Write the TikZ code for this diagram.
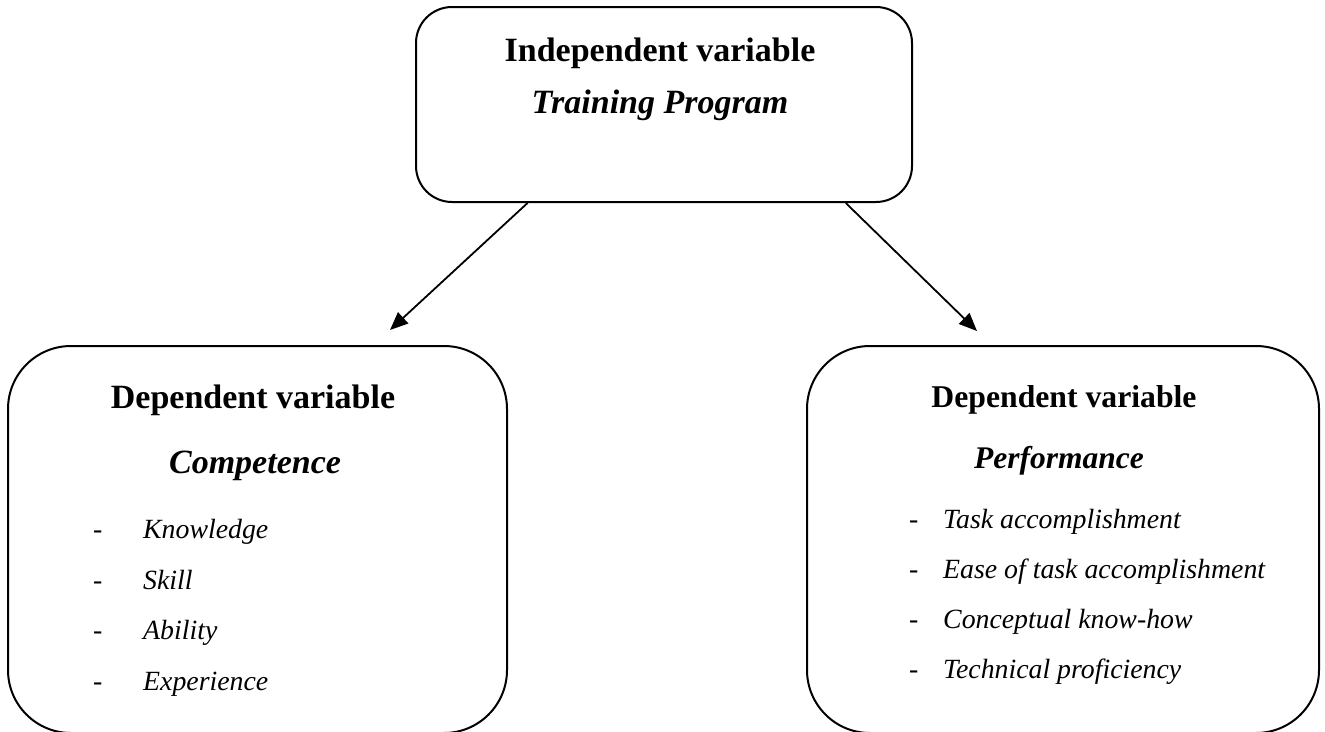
\documentclass[tikz,border=0pt]{standalone}
\usepackage{fontspec}
\setmainfont{Liberation Serif}
\usetikzlibrary{arrows.meta,calc}
\begin{document}
\begin{tikzpicture}[x=1pt,y=-1pt,
  boxstyle/.style={draw=black,line width=2pt,inner sep=0pt,fill=none},
  headbig/.style={anchor=base,inner sep=0pt,font=\fontsize{34}{40}\selectfont\bfseries},
  headsub/.style={anchor=base,inner sep=0pt,font=\fontsize{34}{40}\selectfont\bfseries\itshape},
  headsmall/.style={anchor=base,inner sep=0pt,font=\fontsize{31.7}{38}\selectfont\bfseries},
  headsmallsub/.style={anchor=base,inner sep=0pt,font=\fontsize{31.5}{38}\selectfont\bfseries\itshape},
  itemtxt/.style={anchor=base west,inner sep=0pt,font=\fontsize{27.8}{33}\selectfont\itshape},
  dashtxt/.style={anchor=base west,inner sep=0pt,font=\fontsize{27.8}{33}\selectfont},
  arr/.style={line width=1.8pt,-{Triangle[length=18pt,width=15pt]}}
]
\useasboundingbox (0,0) rectangle (1325,731);
\begin{scope}
\clip (0,0) rectangle (1325,731);
% boxes
\node[boxstyle,rounded corners=36pt,minimum width=496pt,minimum height=195pt] (top) at (664,104.5) {};
\node[boxstyle,rounded corners=63pt,minimum width=499pt,minimum height=387pt] (left) at (257.5,539.5) {};
\node[boxstyle,rounded corners=63pt,minimum width=512pt,minimum height=387pt] (right) at (1063,539.5) {};
\end{scope}
% top texts
\node[headbig] (t1) at (660,61) {Independent variable};
\node[headsub] (t2) at (660,113) {Training Program};
% left texts
\node[headbig] (l1) at (253,408) {Dependent variable};
\node[headsub] (l2) at (255,473) {Competence};
\node[dashtxt] (ld1) at (93,538) {-};
\node[itemtxt] (li1) at (143,538) {Knowledge};
\node[dashtxt] (ld2) at (93,589) {-};
\node[itemtxt] (li2) at (143,589) {Skill};
\node[dashtxt] (ld3) at (93,639) {-};
\node[itemtxt] (li3) at (143,639) {Ability};
\node[dashtxt] (ld4) at (93,690) {-};
\node[itemtxt] (li4) at (143,690) {Experience};
% right texts
\node[headsmall] (r1) at (1064,407) {Dependent variable};
\node[headsmallsub] (r2) at (1059,468) {Performance};
\node[dashtxt] (rd1) at (909,528) {-};
\node[itemtxt] (ri1) at (943,528) {Task accomplishment};
\node[dashtxt] (rd2) at (909,578) {-};
\node[itemtxt] (ri2) at (943,578) {Ease of task accomplishment};
\node[dashtxt] (rd3) at (909,628) {-};
\node[itemtxt] (ri3) at (943,628) {Conceptual know-how};
\node[dashtxt] (rd4) at (909,678) {-};
\node[itemtxt] (ri4) at (943,678) {Technical proficiency};
% arrows
\coordinate (tipL) at (390,330);
\coordinate (tipR) at (977,331);
\draw[arr] ($(top.south west)!0.226!(top.south east)$) -- (tipL);
\draw[arr] ($(top.south west)!0.865!(top.south east)$) -- (tipR);
\end{tikzpicture}
\end{document}
